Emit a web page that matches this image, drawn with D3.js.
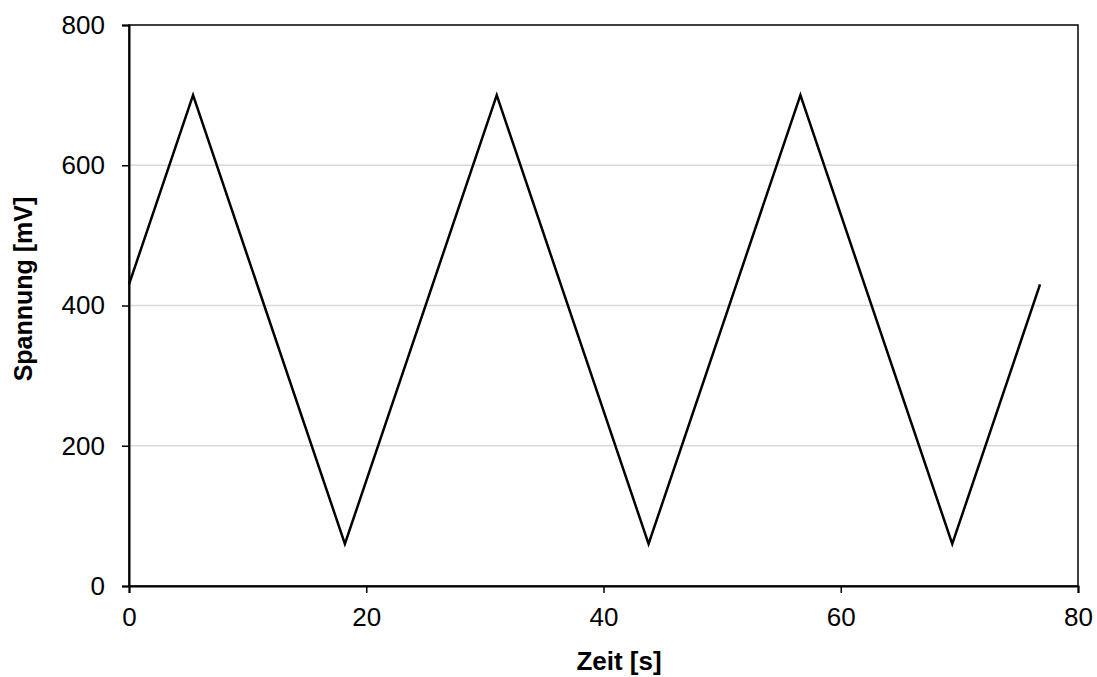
<!DOCTYPE html>
<html>
<head>
<meta charset="utf-8">
<script src="https://cdn.jsdelivr.net/npm/d3@7"></script>
<style>
  html, body { margin: 0; padding: 0; background: #fff; }
  svg { display: block; font-family: "Liberation Sans", Arial, sans-serif; }
</style>
</head>
<body>
<svg id="chart" width="1097" height="677"></svg>
<script>
// Triangle voltage sweep: turning points of the signal
const timeSec = [0, 5.4, 18.2, 31.0, 43.8, 56.6, 69.4, 76.8];
const voltageMv = [430, 700, 60, 700, 60, 700, 60, 430];
const xTicks = [0, 20, 40, 60, 80];
const yTicks = [0, 200, 400, 600, 800];
const xTitle = "Zeit [s]";
const yTitle = "Spannung [mV]";

const margin = { left: 129, right: 19, top: 25, bottom: 91 };
const W = 1097, H = 677;
const svg = d3.select("#chart");

const x = d3.scaleLinear().domain([0, 80]).range([margin.left, W - margin.right]);
const y = d3.scaleLinear().domain([0, 800]).range([H - margin.bottom, margin.top]);

// horizontal gridlines
svg.append("g")
  .selectAll("line")
  .data(yTicks.filter(v => v > 0 && v < 800))
  .join("line")
  .attr("x1", x(0)).attr("x2", x(80))
  .attr("y1", d => y(d)).attr("y2", d => y(d))
  .attr("stroke", "#d9d9d9")
  .attr("stroke-width", 1.5);

// plot frame
svg.append("rect")
  .attr("x", x(0)).attr("y", y(800))
  .attr("width", x(80) - x(0)).attr("height", y(0) - y(800))
  .attr("fill", "none")
  .attr("stroke", "#000")
  .attr("stroke-width", 1.5);

// axes
const xAxis = svg.append("g")
  .attr("transform", `translate(0,${y(0)})`)
  .call(d3.axisBottom(x).tickValues(xTicks).tickSize(7).tickPadding(15).tickFormat(d3.format("d")));
const yAxis = svg.append("g")
  .attr("transform", `translate(${x(0)},0)`)
  .call(d3.axisLeft(y).tickValues(yTicks).tickSize(7).tickPadding(17).tickFormat(d3.format("d")));

[xAxis, yAxis].forEach(g => {
  g.select(".domain").attr("stroke", "#000").attr("stroke-width", 2);
  g.selectAll(".tick line").attr("stroke", "#000").attr("stroke-width", 1.5);
  g.selectAll(".tick text")
    .attr("fill", "#000")
    .style("font-family", "'Liberation Sans', Arial, sans-serif")
    .style("font-size", "26px");
});

// signal
const pts = timeSec.map((t, i) => [t, voltageMv[i]]);
svg.append("path")
  .datum(pts)
  .attr("fill", "none")
  .attr("stroke", "#000")
  .attr("stroke-width", 2.5)
  .attr("stroke-linejoin", "miter")
  .attr("d", d3.line().x(d => x(d[0])).y(d => y(d[1])));

// axis titles
svg.append("text")
  .attr("x", 619)
  .attr("y", 670)
  .attr("text-anchor", "middle")
  .style("font-weight", "bold")
  .style("font-size", "26px")
  .text(xTitle);

svg.append("text")
  .attr("transform", "translate(32,289) rotate(-90)")
  .attr("text-anchor", "middle")
  .style("font-weight", "bold")
  .style("font-size", "25px")
  .text(yTitle);
</script>
</body>
</html>
